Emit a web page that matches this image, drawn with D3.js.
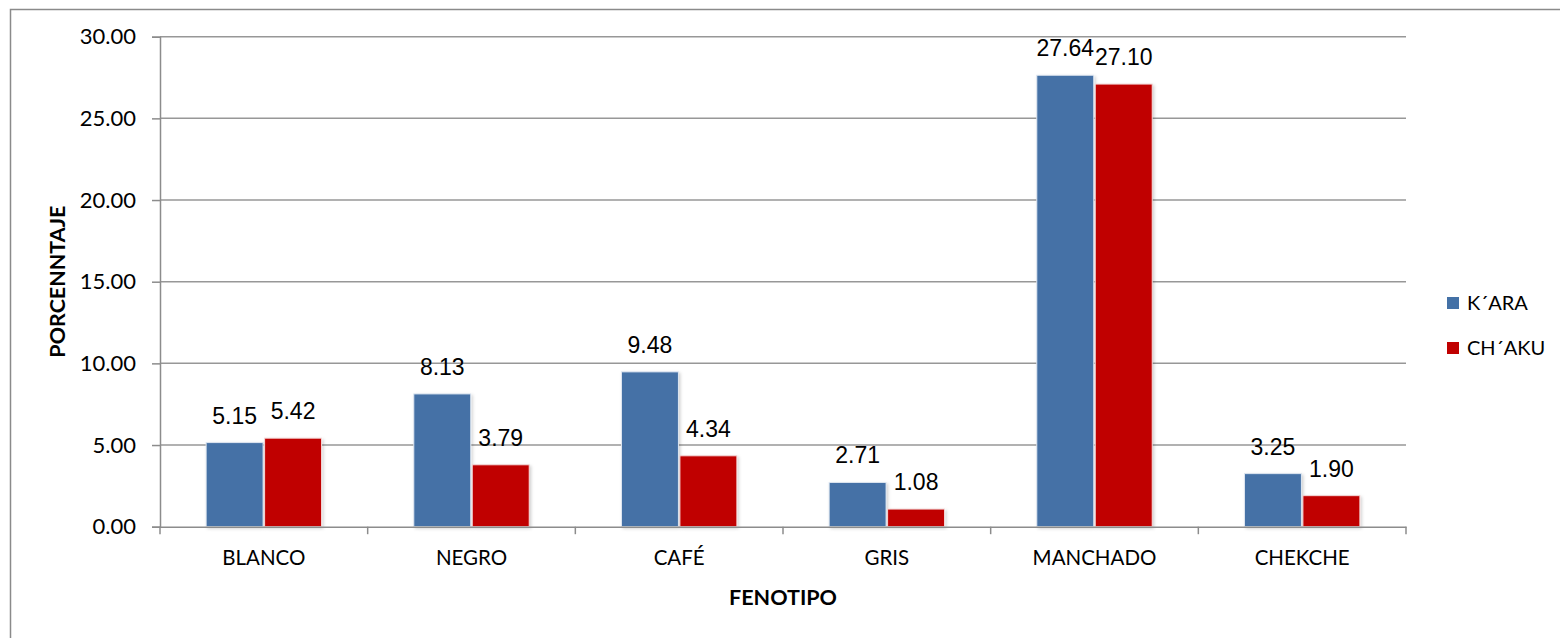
<!DOCTYPE html>
<html>
<head>
<meta charset="utf-8">
<script src="https://cdn.jsdelivr.net/npm/d3@7"></script>
<style>
  html, body { margin: 0; padding: 0; background: #fff; }
  svg { display: block; }
</style>
</head>
<body>
<svg id="chart" width="1560" height="638"></svg>
<script>
const categories = ["BLANCO", "NEGRO", "CAFÉ", "GRIS", "MANCHADO", "CHEKCHE"];
const seriesNames = ["K´ARA", "CH´AKU"];
const karaValues = [5.15, 8.13, 9.48, 2.71, 27.64, 3.25];
const chakuValues = [5.42, 3.79, 4.34, 1.08, 27.10, 1.90];
const yTicks = [0, 5, 10, 15, 20, 25, 30];
const colors = ["#4471A6", "#C00000"];

const svg = d3.select("#chart");
const W = 1560, H = 638;
const m = { left: 160, right: 1406, top: 36.7, bottom: 526.7 };

// outer frame
svg.append("rect").attr("x", 10.5).attr("y", 9.5).attr("width", W + 20).attr("height", H + 20)
  .attr("fill", "#fff").attr("stroke", "#8a8a8a").attr("stroke-width", 1.5);

const defs = svg.append("defs");
const f = defs.append("filter").attr("id", "shadow").attr("x", "-10%").attr("y", "-10%").attr("width", "130%").attr("height", "130%");
f.append("feDropShadow").attr("dx", 1.5).attr("dy", 1.5).attr("stdDeviation", 1.5).attr("flood-color", "#000").attr("flood-opacity", 0.18);

const x0 = d3.scaleBand().domain(categories).range([m.left, m.right]).paddingInner(0.437).paddingOuter(0.2185);
const x1 = d3.scaleBand().domain(seriesNames).range([0, x0.bandwidth()]).padding(0);
const y = d3.scaleLinear().domain([0, 30]).range([m.bottom, m.top]);

// gridlines
svg.append("g").selectAll("line").data(yTicks.filter(d => d > 0)).join("line")
  .attr("x1", m.left).attr("x2", m.right)
  .attr("y1", d => y(d)).attr("y2", d => y(d))
  .attr("stroke", "#979797").attr("stroke-width", 1.5);

// y axis
const yAxis = d3.axisLeft(y).tickValues(yTicks).tickFormat(d3.format(".2f")).tickSize(8).tickPadding(16);
const gy = svg.append("g").attr("transform", `translate(${m.left},0)`).call(yAxis);
gy.select(".domain").attr("stroke", "#8c8c8c").attr("stroke-width", 1.5);
gy.selectAll(".tick line").attr("stroke", "#8c8c8c").attr("stroke-width", 1.5);
gy.selectAll(".tick text").attr("font-family", "Lato, 'Open Sans', sans-serif").attr("font-size", 22).attr("fill", "#000");

// bars
const data = categories.map((c, i) => ({ cat: c, vals: [karaValues[i], chakuValues[i]] }));
const groups = svg.append("g").selectAll("g").data(data).join("g")
  .attr("transform", d => `translate(${x0(d.cat)},0)`);
groups.selectAll("rect").data(d => d.vals.map((v, j) => ({ v, s: seriesNames[j], j }))).join("rect")
  .attr("x", d => x1(d.s) + 0.75)
  .attr("width", x1.bandwidth() - 1.5)
  .attr("y", d => y(d.v))
  .attr("height", d => y(0) - y(d.v))
  .attr("fill", d => colors[d.j])
  .attr("stroke", d => d.j === 0 ? "#dfe7f1" : "#f3d6d6").attr("stroke-width", 1)
  .attr("filter", "url(#shadow)");
groups.selectAll("text").data(d => d.vals.map((v, j) => ({ v, s: seriesNames[j], j }))).join("text")
  .attr("x", d => x1(d.s) + x1.bandwidth() / 2)
  .attr("y", d => y(d.v) - 19)
  .attr("text-anchor", "middle")
  .attr("font-family", "'Liberation Sans', Arial, sans-serif").attr("font-size", 23)
  .attr("fill", "#000")
  .text(d => d.v.toFixed(2));

// x axis
const xAxis = d3.axisBottom(x0).tickSize(0).tickPadding(24);
const gx = svg.append("g").attr("transform", `translate(0,${m.bottom})`).call(xAxis);
gx.select(".domain").attr("stroke", "#8c8c8c").attr("stroke-width", 1.5);
gx.selectAll(".tick text").attr("font-family", "Lato, 'Open Sans', sans-serif").attr("font-size", 20.5).attr("fill", "#000");
const boundaries = categories.map(c => x0(c) - x0.step() * x0.paddingInner() / 2).concat([m.right]);
svg.append("g").selectAll("line").data(boundaries).join("line")
  .attr("x1", d => d).attr("x2", d => d)
  .attr("y1", m.bottom).attr("y2", m.bottom + 7.5)
  .attr("stroke", "#8c8c8c").attr("stroke-width", 1.5);

// axis titles
svg.append("text").attr("x", 783).attr("y", 605)
  .attr("text-anchor", "middle").attr("font-family", "Lato, 'Open Sans', sans-serif")
  .attr("font-weight", "bold").attr("font-size", 21.5).text("FENOTIPO");
svg.append("text").attr("transform", `translate(65,${(m.top + m.bottom) / 2}) rotate(-90)`)
  .attr("text-anchor", "middle").attr("font-family", "Lato, 'Open Sans', sans-serif")
  .attr("font-weight", "bold").attr("font-size", 21.5).text("PORCENNTAJE");

// legend
const lg = svg.append("g").selectAll("g").data(seriesNames).join("g")
  .attr("transform", (d, i) => `translate(1447,${303 + i * 45})`);
lg.append("rect").attr("x", 0).attr("y", -6).attr("width", 12).attr("height", 12)
  .attr("fill", (d, i) => colors[i]);
lg.append("text").attr("x", 20).attr("y", 0).attr("dy", "0.35em")
  .attr("font-family", "Lato, 'Open Sans', sans-serif").attr("font-size", 20).text(d => d);
</script>
</body>
</html>
